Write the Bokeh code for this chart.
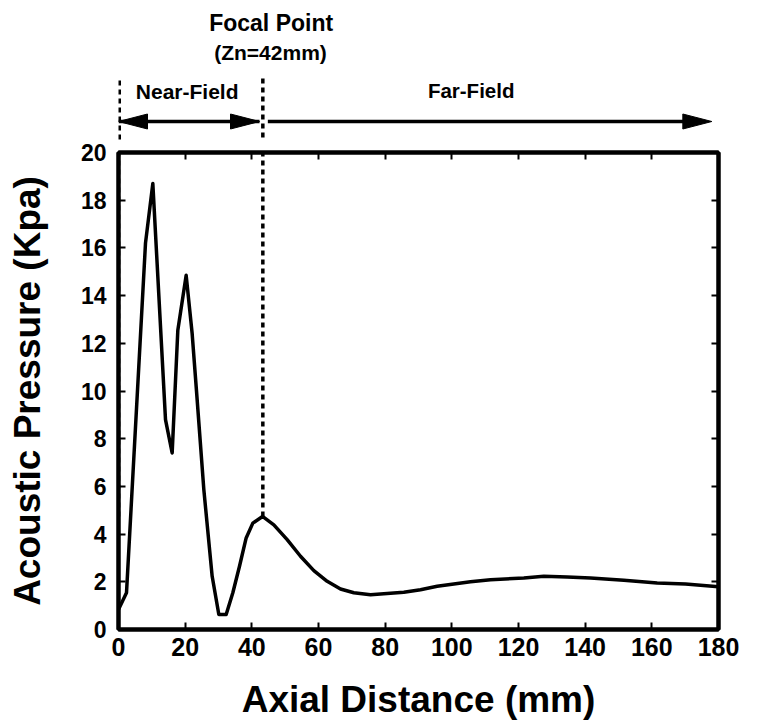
from bokeh.plotting import figure
from bokeh.layouts import column
from bokeh.models import Range1d, LinearAxis, FixedTicker
from bokeh.core.properties import value
from bokeh.embed import file_html
from bokeh.resources import INLINE

# ---------------- data ----------------
distance_mm = [0, 2.4, 8.1, 10.3, 14.1, 16.1, 17.8, 20.3, 22.1, 23.4, 25.6, 28.1,
               30.1, 32.3, 34.3, 36.3, 38.3, 40.3, 43.2, 46.6, 50.6, 54.6, 58.6,
               62.6, 66.6, 70.6, 75.6, 80.6, 85.6, 90.6, 95.6, 100.6, 105.6,
               111.6, 121.6, 127.6, 134.6, 141.6, 151.6, 161.6, 170.1, 180]
pressure_kpa = [0.84, 1.54, 16.2, 18.7, 8.8, 7.4, 12.55, 14.85, 12.4, 10.0, 5.86, 2.23,
                0.63, 0.63, 1.54, 2.65, 3.84, 4.46, 4.74, 4.39, 3.77, 3.07, 2.47,
                2.02, 1.70, 1.54, 1.46, 1.51, 1.56, 1.67, 1.81, 1.91, 2.0,
                2.09, 2.16, 2.23, 2.20, 2.16, 2.06, 1.95, 1.91, 1.79]
x_ticks = [0, 20, 40, 60, 80, 100, 120, 140, 160, 180]
y_ticks = [0, 2, 4, 6, 8, 10, 12, 14, 16, 18, 20]

focal_mm = 43.3          # dashed focal-point marker
marker_low_kpa = 4.74    # dashed markers start at this level
near_start_mm, near_end_mm = 0.0, 42.3
far_start_mm, far_end_mm = 44.8, 178.0

FONT = "Liberation Sans"
W, H = 758, 722
H_TOP = 140              # annotation strip height
BORDER_L, BORDER_R = 118, 40
X0, X1 = 0, 180
PPM = (W - BORDER_L - BORDER_R) / (X1 - X0)   # px per mm

# ---------------- main chart ----------------
p = figure(width=W, height=H - H_TOP, x_range=Range1d(X0, X1), y_range=Range1d(0, 20),
           output_backend="svg", toolbar_location=None,
           min_border_left=BORDER_L, min_border_right=BORDER_R,
           min_border_top=152 - H_TOP, min_border_bottom=92)
p.outline_line_color = "black"
p.outline_line_width = 4
p.grid.visible = False
p.background_fill_color = "white"
p.border_fill_color = "white"

xa = p.xaxis[0]
xa.ticker = FixedTicker(ticks=x_ticks)
ya = p.yaxis[0]
ya.ticker = FixedTicker(ticks=y_ticks)
for ax, fs in ((xa, "25px"), (ya, "23px")):
    ax.axis_line_width = 4
    ax.major_tick_in = 7
    ax.major_tick_out = 0
    ax.major_tick_line_width = 2
    ax.minor_tick_line_color = None
    ax.major_label_text_font = FONT
    ax.major_label_text_font_style = "bold"
    ax.major_label_text_font_size = fs
    ax.major_label_text_color = "black"
    ax.axis_label_text_font = FONT
    ax.axis_label_text_font_style = "bold"
    ax.axis_label_text_color = "black"
xa.major_label_standoff = 8
ya.major_label_standoff = 12
xa.axis_label = "Axial Distance (mm)"
xa.axis_label_text_font_size = "37px"
xa.axis_label_standoff = 20
ya.axis_label = "Acoustic Pressure (Kpa)"
ya.axis_label_text_font_size = "37px"
ya.axis_label_standoff = 30

# inward ticks on the top and right frame edges (no labels)
for loc, ticks in (("above", x_ticks), ("right", y_ticks)):
    ax = LinearAxis(ticker=FixedTicker(ticks=ticks),
                    major_label_overrides={v: "" for v in ticks},
                    major_label_standoff=0, major_tick_in=7, major_tick_out=0,
                    major_tick_line_width=2, minor_tick_line_color=None, axis_line_width=4)
    p.add_layout(ax, loc)

# dashed markers inside the frame
p.segment(x0=[near_start_mm, focal_mm], y0=[marker_low_kpa, marker_low_kpa],
          x1=[near_start_mm, focal_mm], y1=[21, 21],
          line_color="black", line_width=3.5, line_dash="5 4")

p.line(distance_mm, pressure_kpa, line_color="black", line_width=3.5, line_join="round")

# ---------------- annotation strip above (y = pixel row from top) ----------------
t = figure(width=W, height=H_TOP,
           x_range=Range1d(X0, X1), y_range=Range1d(H_TOP, 0),
           output_backend="svg", toolbar_location=None,
           min_border_left=BORDER_L, min_border_right=BORDER_R,
           min_border_top=0, min_border_bottom=0,
           x_axis_type=None, y_axis_type=None, outline_line_color=None)
t.grid.visible = False
t.background_fill_color = "white"
t.border_fill_color = "white"

ARROW_Y = 121
HEAD_L = 29 / PPM
HEAD_HW = 7.5

# dashed markers continuing up (the left one sits on the frame edge, half clipped)
t.segment(x0=[near_start_mm, focal_mm], y0=[80, 78], x1=[near_start_mm, focal_mm],
          y1=[H_TOP, H_TOP], line_color="black", line_width=[5, 3.5], line_dash="5 4")

# arrow shafts
t.segment(x0=[near_start_mm, far_start_mm], y0=[ARROW_Y, ARROW_Y],
          x1=[near_end_mm, far_end_mm - HEAD_L / 2], y1=[ARROW_Y, ARROW_Y],
          line_color="black", line_width=3.5)

# arrow heads (tip, direction)
heads = [(near_start_mm, -1), (near_end_mm, 1), (far_end_mm, 1)]
hx = [[tip, tip - d * HEAD_L, tip - d * HEAD_L] for tip, d in heads]
hy = [[ARROW_Y, ARROW_Y - HEAD_HW, ARROW_Y + HEAD_HW] for _ in heads]
t.patches(hx, hy, fill_color="black", line_color="black", line_width=1)

labels = [("Focal Point", 45.8, 22, "23px"),
          ("(Zn=42mm)", 45.6, 52, "21px"),
          ("Near-Field", 20.6, 91, "21px"),
          ("Far-Field", 105.8, 90, "20.5px")]
for txt, lx, ly, fs in labels:
    t.text(x=[lx], y=[ly], text=[txt], text_font=value(FONT), text_font_style="bold",
           text_font_size=fs, text_align="center", text_baseline="middle",
           text_color="black")

layout = column(t, p, spacing=0)
open("out.html", "w").write(file_html(layout, INLINE))
